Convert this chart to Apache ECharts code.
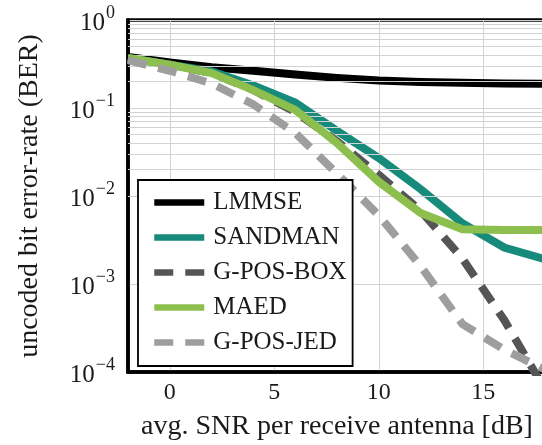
<!DOCTYPE html>
<html>
<head>
<meta charset="utf-8">
<script src="https://cdn.jsdelivr.net/npm/echarts@6/dist/echarts.min.js"></script>
<style>
html,body{margin:0;padding:0;background:#fff;}
#chart{width:542px;height:445px;}
</style>
</head>
<body>
<div id="chart"></div>
<script>
// ---- data ----
const snr = [-2, 0, 2, 4, 6, 8, 10, 12, 14, 16, 18];
const lmmse   = [0.38, 0.33, 0.29, 0.265, 0.24, 0.22, 0.205, 0.198, 0.193, 0.19, 0.188];
const sandman = [0.37, 0.31, 0.26, 0.18, 0.115, 0.055, 0.027, 0.012, 0.0049, 0.0026, 0.0019];
const gposbox = [0.36, 0.31, 0.25, 0.16, 0.09, 0.042, 0.0174, 0.0068, 0.00195, 0.00039, 0.00006];
const maed    = [0.37, 0.31, 0.25, 0.16, 0.095, 0.04, 0.0145, 0.0064, 0.0042, 0.0041, 0.0041];
const gposjed = [0.35, 0.265, 0.19, 0.11, 0.052, 0.018, 0.006, 0.0016, 0.00035, 0.00018, 0.000105];
const seriesNames = ['LMMSE', 'SANDMAN', 'G-POS-BOX', 'MAED', 'G-POS-JED'];
const xTicks = [0, 5, 10, 15];
const yDecades = [1e-4, 1e-3, 1e-2, 1e-1, 1];
const yTickLabels = {'1': '0', '0.1': '\u22121', '0.01': '\u22122', '0.001': '\u22123', '0.0001': '\u22124'};
const minorMultipliers = [2, 3, 4, 5, 6, 7, 8, 9];
const xName = 'avg. SNR per receive antenna [dB]';
const yName = 'uncoded bit error-rate (BER)';

// ---- build ----
const FONT = '"Liberation Serif", "Times New Roman", serif';
const pairs = arr => snr.map((x, i) => [x, arr[i]]);
const minorVals = [];
yDecades.slice(0, -1).forEach(d => minorMultipliers.forEach(m => minorVals.push(+(d * m).toPrecision(3))));

const colors = ['#000000', '#168a7b', '#555555', '#8dbf4f', '#9e9e9e'];
const dataArrs = [lmmse, sandman, gposbox, maed, gposjed];
const dashes = ['solid', 'solid', [19, 12], 'solid', [19, 12]];
const zs = [3, 4, 5, 6, 7];

const series = [{
  name: '_minor', type: 'line', data: [], z: 1, silent: true, symbol: 'none',
  markLine: {
    silent: true, symbol: ['none', 'none'], label: {show: false},
    lineStyle: {color: '#d2d2d2', width: 1, type: 'solid'},
    emphasis: {disabled: true},
    animation: false,
    data: minorVals.map(v => ({yAxis: v}))
  }
}];
seriesNames.forEach((n, i) => {
  series.push({
    name: n, type: 'line', data: pairs(dataArrs[i]), symbol: 'none', showSymbol: false,
    z: zs[i], clip: true,
    lineStyle: {color: colors[i], width: 8, type: dashes[i], cap: 'butt', join: 'miter'},
    itemStyle: {color: colors[i]},
    emphasis: {disabled: true}
  });
});

const chart = echarts.init(document.getElementById('chart'), null, {renderer: 'canvas'});
chart.setOption({
  animation: false,
  backgroundColor: '#fff',
  grid: {left: 128, top: 20, bottom: 73, right: -4, containLabel: false, outerBoundsMode: 'none',
         show: true, borderColor: '#000', borderWidth: 3.5, backgroundColor: 'transparent'},
  legend: {
    data: seriesNames, orient: 'vertical', left: 138, top: 180,
    itemWidth: 50, itemHeight: 14, itemGap: 10,
    padding: [10, 6, 11, 13],
    backgroundColor: '#fff', borderColor: '#000', borderWidth: 1.8,
    selectedMode: false,
    lineStyle: {width: 6.5},
    itemStyle: {opacity: 0},
    textStyle: {fontFamily: FONT, fontSize: 25, color: '#1a1a1a', padding: [0, 0, 0, 4], lineHeight: 24},
    z: 10
  },
  xAxis: {
    type: 'value', min: -2, max: 18,
    axisLine: {show: true, onZero: false, lineStyle: {color: '#000', width: 3.5}},
    axisTick: {show: false, customValues: xTicks},
    axisLabel: {customValues: xTicks, fontFamily: FONT, fontSize: 24, color: '#1a1a1a', margin: 9},
    splitLine: {show: true, lineStyle: {color: '#d2d2d2', width: 1}},
    name: xName, nameLocation: 'middle', nameGap: 41,
    nameTextStyle: {fontFamily: FONT, fontSize: 28, color: '#1a1a1a'}
  },
  yAxis: {
    type: 'log', logBase: 10, min: 1e-4, max: 1,
    axisLine: {show: true, onZero: false, lineStyle: {color: '#000', width: 3.5}},
    axisTick: {show: false},
    axisLabel: {
      margin: 13,
      formatter: v => '{b|10}{s|' + (yTickLabels[String(+v.toPrecision(3))] || '') + '}',
      rich: {
        b: {fontFamily: FONT, fontSize: 25, color: '#1a1a1a', lineHeight: 32, verticalAlign: 'bottom'},
        s: {fontFamily: FONT, fontSize: 18, color: '#1a1a1a', lineHeight: 18, verticalAlign: 'top', padding: [0, 0, 0, 1]}
      }
    },
    splitLine: {show: true, lineStyle: {color: '#d2d2d2', width: 1}},
    minorSplitLine: {show: false},
    name: yName, nameLocation: 'middle', nameGap: 84,
    nameTextStyle: {fontFamily: FONT, fontSize: 28, color: '#1a1a1a'}
  },
  series: series
});
</script>
</body>
</html>
